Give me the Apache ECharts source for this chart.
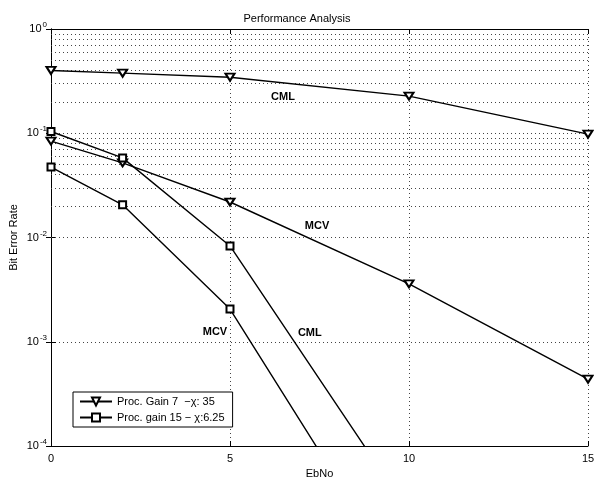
<!DOCTYPE html>
<html><head><meta charset="utf-8">
<script src="https://cdn.jsdelivr.net/npm/echarts@6/dist/echarts.min.js"></script>
<style>html,body{margin:0;padding:0;background:#fff}#c{width:594px;height:477px}</style>
</head><body><div id="c"></div>
<script>
const ebno = [0, 2, 5, 10, 15];
const cmlGain7 = [0.40, 0.377, 0.345, 0.227, 0.098];
const mcvGain7 = [0.084, 0.052, 0.0219, 0.00359, 0.000437];
const ebno15 = [0, 2, 5, 10];
const cmlGain15 = [0.104, 0.058, 0.0083, 0.000023];
const mcvGain15 = [0.0474, 0.0206, 0.00206, 0.0000038];
const legendNames = ['Proc. Gain 7  \u2212\u03c7: 35', 'Proc. gain 15 \u2212 \u03c7:6.25'];
const annotations = [
  {text: 'CML', x: 6.48, y: 0.222},
  {text: 'MCV', x: 7.43, y: 0.013},
  {text: 'MCV', x: 4.58, y: 0.00125},
  {text: 'CML', x: 7.23, y: 0.00122}
];
const xTicks = [0, 5, 10, 15];

const FONT = 'Liberation Sans';
const chart = echarts.init(document.getElementById('c'), null, {renderer: 'canvas'});
const pair = (xs, ys) => xs.map((x, i) => [x, ys[i]]);

const minorLines = [];
for (let e = -4; e < 0; e++) {
  for (let k = 2; k <= 9; k++) minorLines.push({yAxis: k * Math.pow(10, e)});
}
const dotted = {color: '#444', width: 1, type: [1, 3]};

function lineSeries(name, xs, ys, sym, rot, size) {
  return {
    name: name, type: 'line', data: pair(xs, ys),
    symbol: sym, symbolSize: size, symbolRotate: rot,
    lineStyle: {color: '#000', width: 1.4},
    itemStyle: {color: '#000', borderColor: '#000', borderWidth: 1.2},
    clip: true, animation: false, z: 5
  };
}

const series = [
  lineSeries(legendNames[0], ebno, cmlGain7, 'emptyTriangle', 180, [9, 7]),
  lineSeries(legendNames[0], ebno, mcvGain7, 'emptyTriangle', 180, [9, 7]),
  lineSeries(legendNames[1], ebno15, cmlGain15, 'emptyRect', 0, 7),
  lineSeries(legendNames[1], ebno15, mcvGain15, 'emptyRect', 0, 7)
];
series[0].markLine = {
  silent: true, symbol: 'none', label: {show: false}, animation: false,
  lineStyle: dotted, data: minorLines
};
series[1].markPoint = {
  silent: true, symbol: 'circle', symbolSize: 0, animation: false,
  label: {show: true, position: 'inside', color: '#000', fontFamily: FONT, fontSize: 11, fontWeight: 'bold',
          formatter: p => p.name},
  data: annotations.map(a => ({name: a.text, coord: [a.x, a.y]}))
};

const yFmt = v => {
  const e = Math.round(Math.log10(v));
  return '{b|10}{s|' + e + '}';
};

chart.setOption({
  backgroundColor: '#fff',
  animation: false,
  title: {
    text: 'Performance Analysis', left: 'center', top: 8,
    textStyle: {fontFamily: FONT, fontSize: 11, fontWeight: 'normal', color: '#000'}
  },
  legend: {
    data: legendNames, orient: 'vertical', left: 73, top: 392,
    backgroundColor: '#fff', borderColor: '#000', borderWidth: 1,
    padding: [4, 8, 4, 6], itemGap: 5, itemWidth: 32, itemHeight: 10,
    textStyle: {fontFamily: FONT, fontSize: 11, color: '#000'},
    inactiveColor: '#000', selectedMode: false
  },
  grid: {left: 51, right: 6, top: 29, bottom: 31, containLabel: false, outerBoundsMode: 'none'},
  xAxis: [{
    type: 'value', min: 0, max: 15, interval: 5, name: 'EbNo',
    nameLocation: 'middle', nameGap: 22, nameMoveOverlap: false,
    nameTextStyle: {fontFamily: FONT, fontSize: 11, color: '#000'},
    axisLine: {show: true, lineStyle: {color: '#000', width: 1}},
    axisTick: {show: true, inside: true, length: 5, lineStyle: {color: '#000'}},
    axisLabel: {fontFamily: FONT, fontSize: 11, color: '#000', margin: 7,
                formatter: v => xTicks.includes(v) ? String(v) : ''},
    splitLine: {show: true, lineStyle: dotted}
  }, {
    type: 'value', min: 0, max: 15, interval: 5, position: 'top',
    axisLine: {show: true, lineStyle: {color: '#000', width: 1}},
    axisTick: {show: true, inside: true, length: 5, lineStyle: {color: '#000'}},
    axisLabel: {show: false}, splitLine: {show: false}
  }],
  yAxis: [{
    type: 'log', logBase: 10, min: 1e-4, max: 1, name: 'Bit Error Rate',
    nameLocation: 'middle', nameGap: 32, nameRotate: 90, nameMoveOverlap: false,
    nameTextStyle: {fontFamily: FONT, fontSize: 11, color: '#000'},
    axisLine: {show: true, lineStyle: {color: '#000', width: 1}},
    axisTick: {show: true, inside: true, length: 5, lineStyle: {color: '#000'}},
    axisLabel: {
      margin: 4, formatter: yFmt,
      rich: {
        b: {fontFamily: FONT, fontSize: 11, color: '#000'},
        s: {fontFamily: FONT, fontSize: 8, color: '#000', padding: [0, 0, 8, 1]}
      }
    },
    splitLine: {show: true, lineStyle: dotted}
  }, {
    type: 'log', logBase: 10, min: 1e-4, max: 1, position: 'right',
    axisLine: {show: true, lineStyle: {color: '#000', width: 1}},
    axisTick: {show: true, inside: true, length: 5, lineStyle: {color: '#000'}},
    axisLabel: {show: false}, splitLine: {show: false}
  }],
  series: series
});
</script></body></html>
